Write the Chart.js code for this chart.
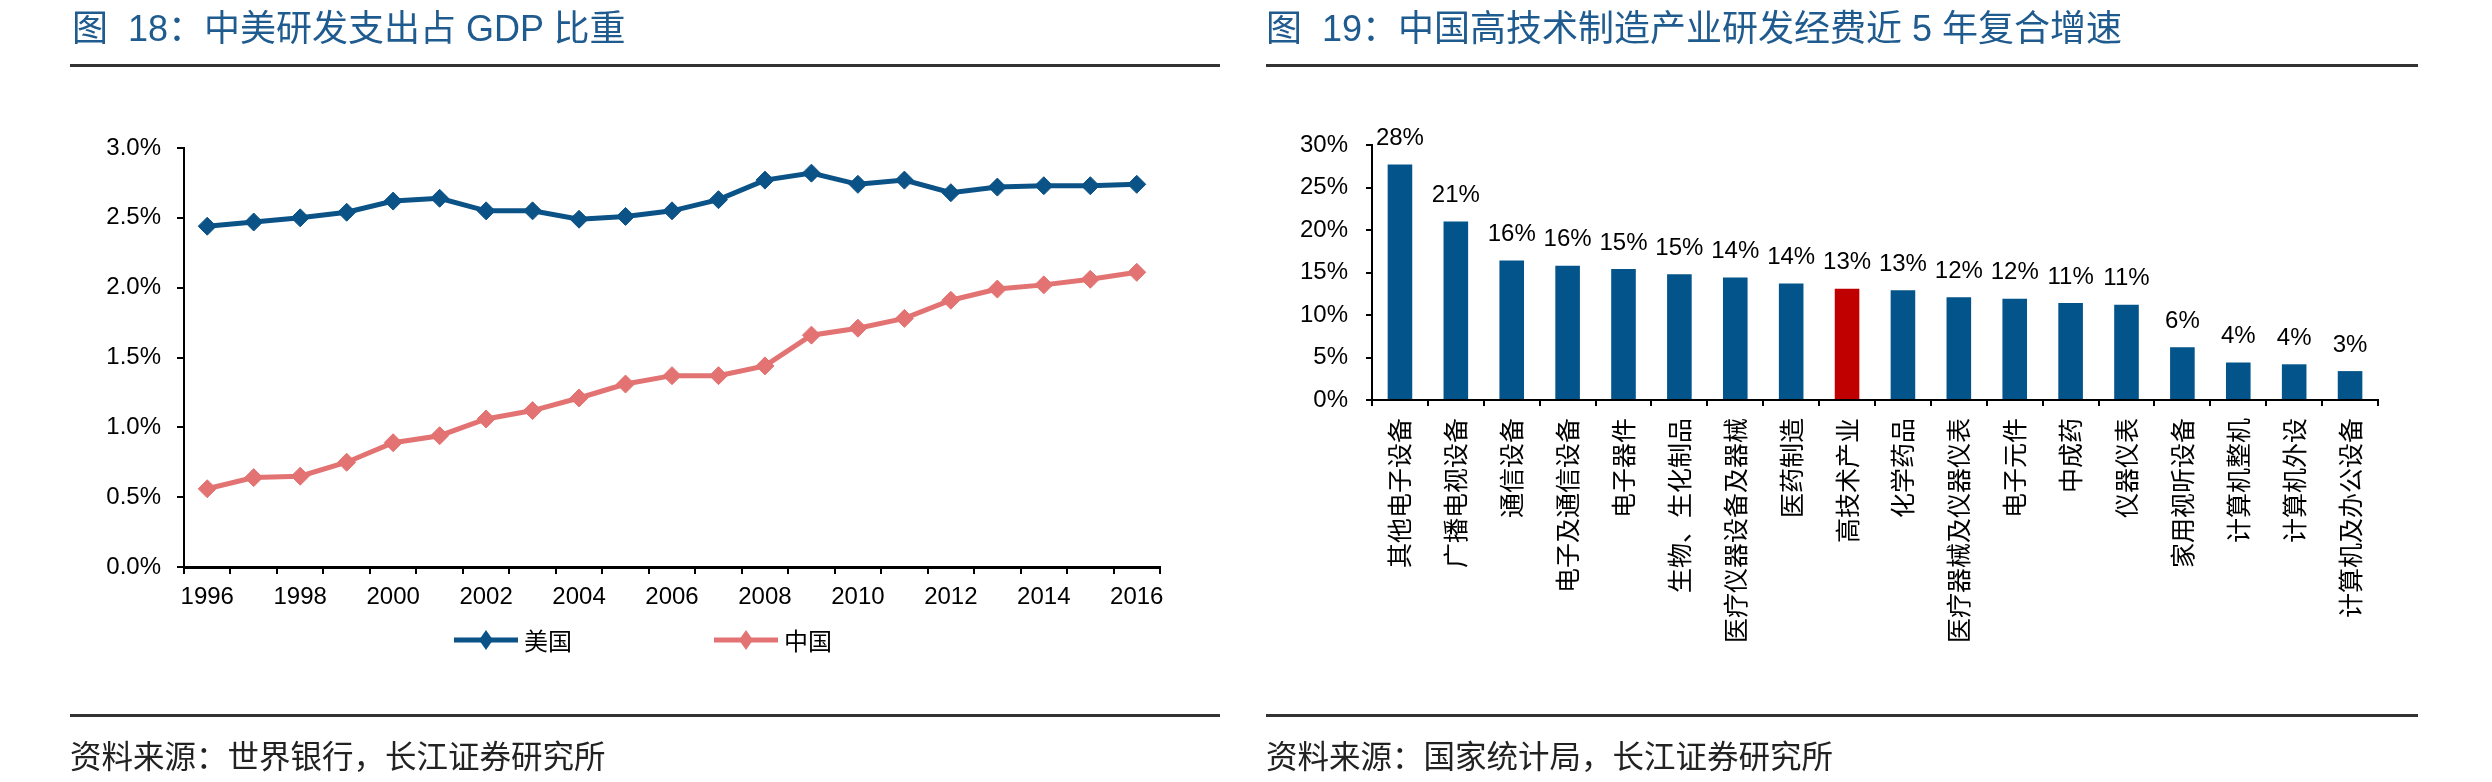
<!DOCTYPE html>
<html>
<head>
<meta charset="utf-8">
<script src="https://cdn.jsdelivr.net/npm/chart.js@4.4.0/dist/chart.umd.min.js"></script>
<style>
html, body { margin: 0; padding: 0; background: #fff; }
body { width: 2492px; height: 782px; position: relative; overflow: hidden; font-family: "Noto Sans CJK SC", sans-serif; }
.panel { position: absolute; top: 0; width: 1246px; height: 782px; }
.title { position: absolute; top: 11px; font-family: "Liberation Sans", "Noto Sans CJK SC", sans-serif; font-size: 36px; line-height: 36px; color: #1F5B8E; white-space: pre; }
.rule { position: absolute; height: 3px; background: #333; }
.src { position: absolute; top: 738px; font-size: 31.5px; line-height: 32px; color: #222; white-space: nowrap; }
canvas { position: absolute; left: 0; top: 0; }
</style>
</head>
<body>
<div class="panel" style="left:0">
  <canvas id="rdShareChart" width="1246" height="782"></canvas>
  <div class="title" style="left:72px">图  18：中美研发支出占 GDP 比重</div>
  <div class="rule" style="left:70px;width:1150px;top:64px"></div>
  <div class="rule" style="left:70px;width:1150px;top:714px"></div>
  <div class="src" style="left:70px">资料来源：世界银行，长江证券研究所</div>
</div>
<div class="panel" style="left:1246px">
  <canvas id="growthChart" width="1246" height="782"></canvas>
  <div class="title" style="left:20px">图  19：中国高技术制造产业研发经费近 5 年复合增速</div>
  <div class="rule" style="left:20px;width:1152px;top:64px"></div>
  <div class="rule" style="left:20px;width:1152px;top:714px"></div>
  <div class="src" style="left:20px">资料来源：国家统计局，长江证券研究所</div>
</div>
<script>
// 图18 数据
const years = ['1996', '1997', '1998', '1999', '2000', '2001', '2002', '2003', '2004', '2005', '2006',
    '2007', '2008', '2009', '2010', '2011', '2012', '2013', '2014', '2015', '2016'];
const yearTicks = ['1996', '1998', '2000', '2002', '2004', '2006', '2008', '2010', '2012', '2014', '2016'];
const usValues = [2.44, 2.47, 2.50, 2.54, 2.62, 2.64, 2.55, 2.55, 2.49, 2.51, 2.55,
    2.63, 2.77, 2.82, 2.74, 2.77, 2.68, 2.72, 2.73, 2.73, 2.74];
const cnValues = [0.56, 0.64, 0.65, 0.75, 0.89, 0.94, 1.06, 1.12, 1.21, 1.31, 1.37,
    1.37, 1.44, 1.66, 1.71, 1.78, 1.91, 1.99, 2.02, 2.06, 2.11];
const seriesNames = ['美国', '中国'];

// 图19 数据
const industries = ['其他电子设备', '广播电视设备', '通信设备', '电子及通信设备', '电子器件', '生物、生化制品',
    '医疗仪器设备及器械', '医药制造', '高技术产业', '化学药品', '医疗器械及仪器仪表', '电子元件',
    '中成药', '仪器仪表', '家用视听设备', '计算机整机', '计算机外设', '计算机及办公设备'];
const growthValues = [27.7, 21.0, 16.4, 15.8, 15.4, 14.8, 14.4, 13.7, 13.1, 12.9, 12.1, 11.9,
    11.4, 11.2, 6.2, 4.4, 4.2, 3.4];
const highlightIndustry = '高技术产业';

const BLUE = '#0B5287';
const PINK = '#E27372';
const BAR_BLUE = '#02548A';
const BAR_RED = '#C00000';
const NUM_FONT = '"Liberation Sans", Arial, sans-serif';
const CJK_FONT = '"Noto Sans CJK SC", sans-serif';

const lineLegend = {
    id: 'lineLegend',
    afterDraw(chart) {
        const ctx = chart.ctx;
        const y = chart.chartArea.bottom + 73;
        const starts = [454, 714];
        chart.data.datasets.forEach((ds, i) => {
            const x = starts[i];
            ctx.save();
            ctx.strokeStyle = ds.borderColor;
            ctx.lineWidth = 5;
            ctx.beginPath();
            ctx.moveTo(x, y);
            ctx.lineTo(x + 64, y);
            ctx.stroke();
            ctx.fillStyle = ds.borderColor;
            ctx.beginPath();
            ctx.moveTo(x + 32, y - 10);
            ctx.lineTo(x + 39, y);
            ctx.lineTo(x + 32, y + 10);
            ctx.lineTo(x + 25, y);
            ctx.closePath();
            ctx.fill();
            ctx.fillStyle = '#000';
            ctx.font = '24px ' + CJK_FONT;
            ctx.textBaseline = 'middle';
            ctx.fillText(ds.label, x + 70, y + 1);
            ctx.restore();
        });
    }
};

const barLabels = {
    id: 'barLabels',
    afterDatasetsDraw(chart) {
        const ctx = chart.ctx;
        const meta = chart.getDatasetMeta(0);
        ctx.save();
        ctx.fillStyle = '#000';
        ctx.font = '24px ' + NUM_FONT;
        ctx.textAlign = 'center';
        ctx.textBaseline = 'middle';
        meta.data.forEach((bar, i) => {
            ctx.fillText(Math.round(growthValues[i]) + '%', bar.x, bar.y - 26);
        });
        ctx.restore();
    }
};

new Chart(document.getElementById('rdShareChart').getContext('2d'), {
    type: 'line',
    data: {
        labels: years,
        datasets: [
            { label: seriesNames[0], data: usValues, borderColor: BLUE, backgroundColor: BLUE,
              borderWidth: 5, pointStyle: 'rectRot', pointRadius: 9, pointBorderWidth: 1, tension: 0 },
            { label: seriesNames[1], data: cnValues, borderColor: PINK, backgroundColor: PINK,
              borderWidth: 5, pointStyle: 'rectRot', pointRadius: 9, pointBorderWidth: 1, tension: 0 }
        ]
    },
    options: {
        responsive: false,
        animation: false,
        devicePixelRatio: 1,
        layout: { padding: { left: 0, right: 86, top: 148, bottom: 165 } },
        plugins: { legend: { display: false }, tooltip: { enabled: false } },
        scales: {
            x: {
                offset: true,
                grid: { offset: true, drawOnChartArea: false, tickLength: 7, color: '#000', lineWidth: 2 },
                border: { color: '#000', width: 3 },
                ticks: {
                    autoSkip: false, maxRotation: 0, padding: 9, color: '#000',
                    font: { family: NUM_FONT, size: 24 },
                    callback: (v, i) => (yearTicks.includes(years[i]) ? years[i] : '')
                },
                afterFit: (s) => { s.height = 50; }
            },
            y: {
                min: 0, max: 3,
                grid: { drawOnChartArea: false, tickLength: 7, color: '#000', lineWidth: 2 },
                border: { color: '#000', width: 2 },
                ticks: {
                    stepSize: 0.5, padding: 16, color: '#000',
                    font: { family: NUM_FONT, size: 24 },
                    callback: (v) => v.toFixed(1) + '%'
                },
                afterFit: (s) => { s.width = 184; }
            }
        }
    },
    plugins: [lineLegend]
});

new Chart(document.getElementById('growthChart').getContext('2d'), {
    type: 'bar',
    data: {
        labels: industries,
        datasets: [{
            data: growthValues,
            backgroundColor: industries.map((n) => (n === highlightIndustry ? BAR_RED : BAR_BLUE)),
            barPercentage: 0.44,
            categoryPercentage: 1
        }]
    },
    options: {
        responsive: false,
        animation: false,
        devicePixelRatio: 1,
        layout: { padding: { left: 0, right: 114, top: 145, bottom: 122 } },
        plugins: { legend: { display: false }, tooltip: { enabled: false } },
        scales: {
            x: {
                grid: { drawOnChartArea: false, tickLength: 6, color: '#000', lineWidth: 2 },
                border: { color: '#000', width: 2 },
                ticks: {
                    autoSkip: false, minRotation: 90, maxRotation: 90, padding: 12, color: '#000',
                    font: { family: CJK_FONT, size: 25 }
                },
                afterFit: (s) => { s.height = 260; }
            },
            y: {
                min: 0, max: 30,
                grid: { drawOnChartArea: false, tickLength: 6, color: '#000', lineWidth: 2 },
                border: { color: '#000', width: 2 },
                ticks: {
                    stepSize: 5, padding: 18, color: '#000',
                    font: { family: NUM_FONT, size: 24 },
                    callback: (v) => v + '%'
                },
                afterFit: (s) => { s.width = 126; }
            }
        }
    },
    plugins: [barLabels]
});
</script>
</body>
</html>
